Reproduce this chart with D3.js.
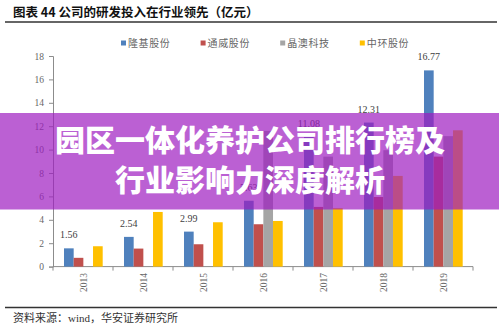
<!DOCTYPE html>
<html>
<head>
<meta charset="utf-8">
<script src="https://cdn.jsdelivr.net/npm/d3@7"></script>
<style>
  body { margin: 0; background: #fff; }
  svg { display: block; }
</style>
</head>
<body>
<div id="chart"></div>
<script>
// data (亿元)
const years      = ['2013', '2014', '2015', '2016', '2017', '2018', '2019'];
const seriesName = ['隆基股份', '通威股份', '晶澳科技', '中环股份'];
const longi      = [1.56, 2.54, 2.99, 5.63, 11.08, 12.31, 16.77];
const tongwei    = [0.75, 1.54, 1.91, 3.62, 5.10, 5.95, 9.40];
const jingao     = [null, null, null, 11.60, 9.40, 9.95, 11.15];
const zhonghuan  = [1.74, 4.67, 3.79, 3.90, 5.00, 7.75, 11.65];
const yTicks     = [0, 2, 4, 6, 8, 10, 12, 14, 16, 18];
const colors     = ['#4f81bd', '#c0504d', '#a5a5a5', '#ffc000'];

const WIDTH = 499, HEIGHT = 324;
const SERIF = '"Liberation Serif", "Times New Roman", "Noto Sans CJK SC", serif';
const CJK   = '"Noto Sans CJK SC", sans-serif';

const values = [longi, tongwei, jingao, zhonghuan];

const svg = d3.select('#chart')
              .append('svg')
              .attr('width', WIDTH)
              .attr('height', HEIGHT);

// heading + rules
svg.append('text')
   .attr('x', 13).attr('y', 16.5)
   .attr('font-family', CJK)
   .attr('font-size', 12.5)
   .attr('font-weight', 700)
   .attr('fill', '#111')
   .text('图表 44 公司的研发投入在行业领先（亿元）');

svg.append('line')
   .attr('x1', 5).attr('x2', 497).attr('y1', 22).attr('y2', 22)
   .attr('stroke', '#333').attr('stroke-width', 1.6);

svg.append('line')
   .attr('x1', 5).attr('x2', 497).attr('y1', 307.5).attr('y2', 307.5)
   .attr('stroke', '#333').attr('stroke-width', 1.6);

svg.append('text')
   .attr('x', 13).attr('y', 321.5)
   .attr('font-family', SERIF)
   .attr('font-size', 11)
   .attr('fill', '#333')
   .text('资料来源：wind，华安证券研究所');

// scales
const x = d3.scaleBand().domain(years).range([53, 473]).padding(0);
const xi = d3.scaleBand().domain(d3.range(4)).range([11, 49.7]).padding(0);
const y = d3.scaleLinear().domain([0, 18]).range([266.6, 56]);

// y axis
const yAxis = svg.append('g')
   .attr('transform', 'translate(53,0)')
   .call(d3.axisLeft(y).tickValues(yTicks).tickSize(4).tickPadding(5));
yAxis.select('.domain').attr('stroke', '#8c8c8c');
yAxis.selectAll('.tick line').attr('stroke', '#8c8c8c');
yAxis.selectAll('.tick text')
     .attr('font-family', SERIF).attr('font-size', 9.5).attr('fill', '#666');

// x axis: baseline, ticks at band edges, rotated labels
const xg = svg.append('g');
xg.append('line')
  .attr('x1', x.range()[0]).attr('x2', x.range()[1])
  .attr('y1', y(0)).attr('y2', y(0))
  .attr('stroke', '#8c8c8c');
xg.selectAll('line.edge')
  .data(years.map(d => x(d)).concat([x.range()[1]]))
  .enter().append('line')
  .attr('class', 'edge')
  .attr('x1', d => d).attr('x2', d => d)
  .attr('y1', y(0)).attr('y2', y(0) + 4)
  .attr('stroke', '#8c8c8c');
xg.selectAll('text')
  .data(years)
  .enter().append('text')
  .attr('transform', d => `translate(${x(d) + x.bandwidth() / 2 + 1},273) rotate(-90)`)
  .attr('dy', '0.35em')
  .attr('text-anchor', 'end')
  .attr('font-family', SERIF)
  .attr('font-size', 9.5)
  .attr('fill', '#666')
  .text(d => d);

// bars
const groups = svg.selectAll('g.year')
   .data(years)
   .enter().append('g')
   .attr('class', 'year')
   .attr('transform', d => `translate(${x(d)},0)`);

groups.selectAll('rect')
   .data((d, i) => values.map((s, k) => ({k: k, v: s[i]})).filter(e => e.v != null))
   .enter().append('rect')
   .attr('x', e => xi(e.k))
   .attr('width', xi.bandwidth())
   .attr('y', e => y(e.v))
   .attr('height', e => y(0) - y(e.v))
   .attr('fill', e => colors[e.k]);

// labels on 隆基股份
svg.selectAll('text.val')
   .data(years)
   .enter().append('text')
   .attr('class', 'val')
   .attr('x', d => x(d) + xi(0) + xi.bandwidth() / 2)
   .attr('y', (d, i) => y(longi[i]) - 10)
   .attr('text-anchor', 'middle')
   .attr('font-family', SERIF)
   .attr('font-size', 10)
   .attr('fill', '#404040')
   .text((d, i) => longi[i].toFixed(2));

// legend
const legend = svg.selectAll('g.leg')
   .data(seriesName)
   .enter().append('g')
   .attr('class', 'leg')
   .attr('transform', (d, i) => `translate(${121 + i * 79.6},43)`);
legend.append('rect')
   .attr('x', 0).attr('y', -2.5).attr('width', 5).attr('height', 5)
   .attr('fill', (d, i) => colors[i]);
legend.append('text')
   .attr('x', 7).attr('dy', '0.35em')
   .attr('font-family', CJK)
   .attr('font-size', 10)
   .attr('letter-spacing', 0.6)
   .attr('fill', '#666')
   .text(d => d);

// purple banner over the chart
svg.append('rect')
   .attr('x', 0).attr('y', 113).attr('width', WIDTH).attr('height', 96.5)
   .attr('fill', 'rgb(158,28,193)').attr('fill-opacity', 0.7);

svg.selectAll('text.banner')
   .data(['园区一体化养护公司排行榜及', '行业影响力深度解析'])
   .enter().append('text')
   .attr('class', 'banner')
   .attr('x', 250)
   .attr('y', (d, i) => 140 + i * 40)
   .attr('dy', '0.36em')
   .attr('text-anchor', 'middle')
   .attr('font-family', CJK)
   .attr('font-size', 30)
   .attr('font-weight', 900)
   .attr('fill', '#fff')
   .text(d => d);
</script>
</body>
</html>
